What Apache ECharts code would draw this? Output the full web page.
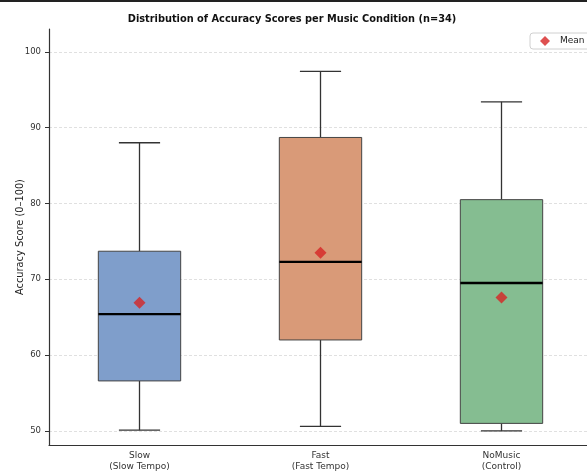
<!DOCTYPE html>
<html>
<head>
<meta charset="utf-8">
<script src="https://cdn.jsdelivr.net/npm/echarts@6/dist/echarts.min.js"></script>
<style>
  html, body { margin: 0; padding: 0; background: #fff; }
  #chart { width: 587px; height: 472px; }
</style>
</head>
<body>
<div id="chart"></div>
<script>
// conditions shown on the x axis
var categories = ['Slow\n(Slow Tempo)', 'Fast\n(Fast Tempo)', 'NoMusic\n(Control)'];
// box stats: [min, q1, median, q3, max]
var slowStats = [50.1, 56.6, 65.4, 73.7, 88.0];
var fastStats = [50.6, 62.0, 72.3, 88.7, 97.4];
var noMusicStats = [50.0, 51.0, 69.5, 80.5, 93.4];
var means = [66.9, 73.5, 67.6];
var boxColors = ['#7f9ecb', '#d99a78', '#85bd91'];
var yTicks = [50, 60, 70, 80, 90, 100];

var boxData = [slowStats, fastStats, noMusicStats].map(function (s, i) {
    return [i].concat(s);
});

var font = 'DejaVu Sans';

var option = {
    animation: false,
    backgroundColor: '#fff',
    title: {
        text: 'Distribution of Accuracy Scores per Music Condition (n=34)',
        left: 287,
        textAlign: 'center',
        top: 9,
        textStyle: { fontFamily: font, fontSize: 9.8, fontWeight: 'bold', color: '#111' }
    },
    legend: {
        // diamond centred in a wider handle, like matplotlib's legend
        data: [{ name: 'Mean', icon: 'path://M10,0L15,5L10,10L5,5ZM0,5L0,5M20,5L20,5' }],
        left: 530,
        top: 33,
        itemWidth: 20,
        itemHeight: 10,
        padding: [3, 6, 3, 5],
        borderColor: '#d0d0d0',
        borderWidth: 1,
        borderRadius: 3,
        backgroundColor: '#fff',
        textStyle: { fontFamily: font, fontSize: 9, color: '#222' }
    },
    grid: { left: 49, right: -5, top: 29, bottom: 27, outerBoundsMode: 'none' },
    xAxis: {
        type: 'category',
        data: categories,
        axisLine: { lineStyle: { color: '#333', width: 1.2 } },
        axisTick: { alignWithLabel: true, length: 4, lineStyle: { color: '#333' } },
        axisLabel: { fontFamily: font, fontSize: 9, color: '#333', lineHeight: 11, margin: 5 },
        splitLine: { show: false }
    },
    yAxis: {
        type: 'value',
        min: 48.15,
        max: 103,
        name: 'Accuracy Score (0–100)',
        nameLocation: 'middle',
        nameGap: 24,
        nameMoveOverlap: false,
        nameTextStyle: { fontFamily: font, fontSize: 9.8, color: '#222' },
        axisLine: { show: true, lineStyle: { color: '#333', width: 1.2 } },
        axisTick: { show: true, length: 4, lineStyle: { color: '#333' }, customValues: yTicks },
        axisLabel: { fontFamily: font, fontSize: 8.5, color: '#333', margin: 8, customValues: yTicks },
        splitLine: { show: true, lineStyle: { color: '#d8d8d8', type: [3, 2], width: 0.8 } }
    },
    series: [{
        type: 'custom',
        name: 'box',
        data: boxData,
        encode: { x: 0, y: [1, 2, 3, 4, 5] },
        renderItem: function (params, api) {
            var i = api.value(0);
            var pMin = api.coord([i, api.value(1)]);
            var pQ1 = api.coord([i, api.value(2)]);
            var pMed = api.coord([i, api.value(3)]);
            var pQ3 = api.coord([i, api.value(4)]);
            var pMax = api.coord([i, api.value(5)]);
            var band = api.size([1, 0])[0];
            var bw = band * 0.455;
            var cw = bw * 0.5;
            var cx = pMed[0];
            var lineStyle = { stroke: '#333', lineWidth: 1.3 };
            return {
                type: 'group',
                children: [
                    { type: 'line', shape: { x1: cx, y1: pQ3[1], x2: cx, y2: pMax[1] }, style: lineStyle },
                    { type: 'line', shape: { x1: cx, y1: pQ1[1], x2: cx, y2: pMin[1] }, style: lineStyle },
                    { type: 'line', shape: { x1: cx - cw / 2, y1: pMax[1], x2: cx + cw / 2, y2: pMax[1] }, style: lineStyle },
                    { type: 'line', shape: { x1: cx - cw / 2, y1: pMin[1], x2: cx + cw / 2, y2: pMin[1] }, style: lineStyle },
                    {
                        type: 'rect',
                        shape: { x: cx - bw / 2, y: pQ3[1], width: bw, height: pQ1[1] - pQ3[1] },
                        style: { fill: boxColors[params.dataIndex], stroke: '#444', lineWidth: 1 }
                    },
                    { type: 'line', shape: { x1: cx - bw / 2, y1: pMed[1], x2: cx + bw / 2, y2: pMed[1] }, style: { stroke: '#000', lineWidth: 2.4 } }
                ]
            };
        },
        z: 2
    }, {
        type: 'scatter',
        name: 'Mean',
        data: means,
        symbol: 'diamond',
        symbolSize: 12,
        itemStyle: { color: '#d62424' },
        z: 5
    }],
    graphic: [{
        type: 'rect',
        shape: { x: 0, y: 0, width: 587, height: 2 },
        style: { fill: '#222' }
    }]
};

var myChart = echarts.init(document.getElementById('chart'));
myChart.setOption(option);
</script>
</body>
</html>
